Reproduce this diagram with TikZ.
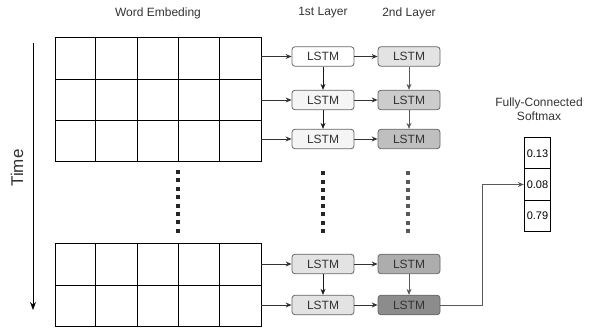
\documentclass[tikz,border=0pt]{standalone}
\usepackage{fontspec}
\setmainfont{Liberation Sans}
\usetikzlibrary{arrows.meta,calc}
\definecolor{edge}{HTML}{666666}
\definecolor{ink}{HTML}{333333}
\tikzset{
  arr/.style={-{Stealth[length=6pt,width=5pt]},line width=0.9pt},
  gridrow/.style={draw=black,line width=0.9pt,minimum width=206pt,minimum height=41.2pt,inner sep=0pt},
  lstm/.style={draw=edge,line width=0.8pt,rounded corners=3pt,minimum width=62pt,minimum height=19.5pt,
    inner sep=0pt,font=\fontsize{12}{14}\selectfont,text=ink},
  cell/.style={draw=black,line width=0.8pt,minimum width=26.5pt,minimum height=31.2pt,inner sep=0pt,
    font=\fontsize{11}{13}\selectfont},
  title/.style={font=\fontsize{12}{14}\selectfont,text=ink},
}
\begin{document}
\begin{tikzpicture}[x=1pt,y=-1pt]
\useasboundingbox (0,0) rectangle (592,331);

% column titles
\node[title] (tEmb) at (158,13) {Word Embeding};
\node[title] (tL1) at (323,13) {1st Layer};
\node[title] (tL2) at (409,13) {2nd Layer};
\node[title,align=center] (tSoft) at (539,109) {Fully-Connected\\Softmax};

% time axis
\coordinate (tTop) at (33,43);
\coordinate (tBot) at (33,310);
\draw[-{Stealth[length=8pt,width=6pt]},line width=0.9pt,draw=black] (tTop) -- (tBot);
\node[rotate=90,font=\fontsize{17}{19}\selectfont,text=ink] (time) at (17,168) {Time};

% word embedding rows
\foreach \n/\y in {g1/58.5,g2/99.7,g3/140.9,g4/264.5,g5/305.7}{
  \node[gridrow] (\n) at (158,\y) {};
  \foreach \k in {1,2,3,4}{
    \draw[line width=0.9pt] ($(\n.north west)+(41.2*\k,0)$) -- ($(\n.south west)+(41.2*\k,0)$);
  }
}

% LSTM cells, first layer
\node[lstm,fill=white]          (a1) at (323,56.5) {LSTM};
\node[lstm,fill=black!4]        (a2) at (323,100) {LSTM};
\node[lstm,fill=black!4]        (a3) at (323,139) {LSTM};
\node[lstm,fill=black!11]       (a4) at (323,264) {LSTM};
\node[lstm,fill=black!11]       (a5) at (323,305) {LSTM};
% LSTM cells, second layer
\node[lstm,fill=black!11]       (b1) at (409,56.5) {LSTM};
\node[lstm,fill=black!20]       (b2) at (409,100) {LSTM};
\node[lstm,fill=black!25]       (b3) at (409,139) {LSTM};
\node[lstm,fill=black!32]       (b4) at (409,264) {LSTM};
\node[lstm,fill=black!45]       (b5) at (409,305) {LSTM};

% inputs from the embedding rows
\foreach \g/\a in {g1/a1,g2/a2,g3/a3,g4/a4,g5/a5}{
  \draw[arr,draw=ink] (\g.east |- \a) -- (\a.west);
}
% first to second layer
\foreach \a/\b in {a1/b1,a2/b2,a3/b3,a4/b4,a5/b5}{
  \draw[arr,draw=ink] (\a.east) -- (\b.west);
}
% recurrent links
\foreach \u/\v in {a1/a2,a2/a3,a4/a5}{
  \draw[arr,draw=black!90] (\u.south) -- (\v.north);
}
\foreach \u/\v in {b1/b2,b2/b3,b4/b5}{
  \draw[arr,draw=black!65] (\u.south) -- (\v.north);
}

% ellipsis dots
\foreach \i in {0,...,7}{
  \fill[black!85] ($(178.3,172)+(-2,-2+8.4*\i)$) rectangle ++(4,4);
  \fill[black!85] ($(322.5,173.5)+(-2,-2+8.2*\i)$) rectangle ++(4,4);
  \fill[black!65] ($(408.3,173.5)+(-2,-2+8.2*\i)$) rectangle ++(4,4);
}

% softmax output
\node[cell] (s1) at (537.5,153.3) {0.13};
\node[cell] (s2) at (537.5,184.5) {0.08};
\node[cell] (s3) at (537.5,215.7) {0.79};
\coordinate (bend) at (482,0);
\draw[arr,draw=black!65] (b5.east) -- (b5.east -| bend) |- (s2.west);
\end{tikzpicture}
\end{document}
